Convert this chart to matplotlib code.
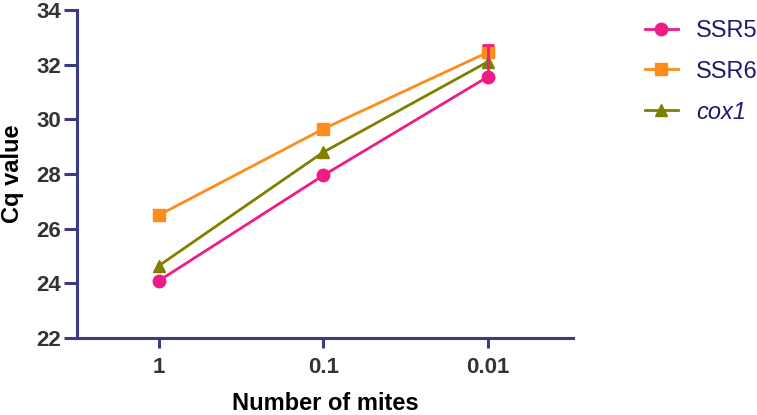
import matplotlib.pyplot as plt
import numpy as np

plt.rcParams['font.family'] = ['Liberation Sans', 'DejaVu Sans']

# data
mite_labels = ['1', '0.1', '0.01']
ssr5 = [24.1, 27.95, 31.55]
ssr6 = [26.5, 29.65, 32.45]
cox1 = [24.65, 28.8, 32.1]
ssr5_err_up = [0, 0, 1.15]

axis_col = '#3a3a85'
tick_col = '#333333'
legend_col = '#1c1c6e'

fig = plt.figure(figsize=(7.57, 4.15), dpi=100)
ax = fig.add_axes([0.1017, 0.1855, 0.6553, 0.7905])

x = np.arange(len(mite_labels))
l6, = ax.plot(x, ssr6, '-s', color='#ff8c1a', lw=2, ms=8.5, zorder=3)
lc, = ax.plot(x, cox1, '-^', color='#808000', lw=2, ms=8.5, zorder=4)
ax.errorbar(x, ssr5, yerr=[np.zeros(3), ssr5_err_up], fmt='none', ecolor='#ee1c84',
            capsize=4, capthick=2, elinewidth=2, zorder=5)
l5, = ax.plot(x, ssr5, '-o', color='#ee1c84', lw=2, ms=9, zorder=5)

ax.set_xlim(-0.5, 2.52)
ax.set_ylim(22, 34)
ax.set_yticks(np.arange(22, 35, 2))
ax.set_xticks(x)
ax.set_xticklabels(mite_labels)

for s in ['top', 'right']:
    ax.spines[s].set_visible(False)
for s in ['left', 'bottom']:
    ax.spines[s].set_color(axis_col)
    ax.spines[s].set_linewidth(2.2)
ax.tick_params(axis='both', colors=axis_col, width=2.2, labelcolor=tick_col, labelsize=16)
ax.tick_params(axis='y', length=9.5, pad=2)
ax.tick_params(axis='x', length=7.5, pad=6)
for lab in ax.get_xticklabels() + ax.get_yticklabels():
    lab.set_fontweight('bold')

ax.set_xlabel('Number of mites', fontsize=17, fontweight='bold', labelpad=10)
ax.set_ylabel('Cq value', fontsize=17, fontweight='bold', labelpad=9)

leg = fig.legend([l5, l6, lc], ['SSR5', 'SSR6', 'cox1'],
                 loc='upper left', bbox_to_anchor=(0.852, 0.951), frameon=False,
                 fontsize=17, labelspacing=0.77, handlelength=1.4, handletextpad=0.75,
                 borderpad=0, borderaxespad=0)
for t in leg.get_texts():
    t.set_color(legend_col)
leg.get_texts()[2].set_style('italic')

fig.savefig('out.png', dpi=100)
